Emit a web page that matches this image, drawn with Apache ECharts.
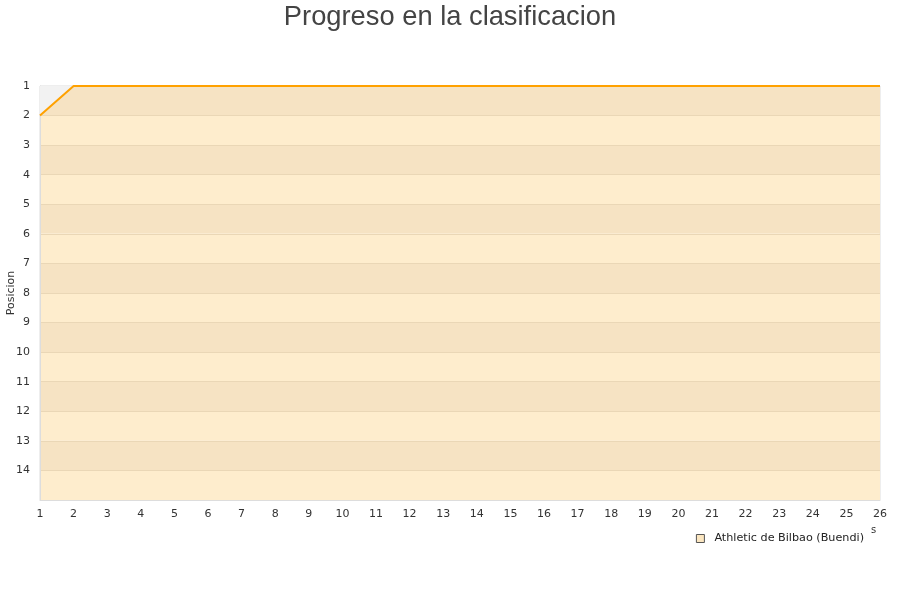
<!DOCTYPE html>
<html>
<head>
<meta charset="utf-8">
<script src="https://cdn.jsdelivr.net/npm/echarts@6/dist/echarts.min.js"></script>
<style>html,body{margin:0;padding:0;background:#fff;}#c{width:900px;height:600px;}</style>
</head>
<body>
<div id="c"></div>
<script>
var titleText = 'Progreso en la clasificacion';
var seriesName = 'Athletic de Bilbao (Buendi)';
var yAxisName = 'Posicion';
var jornadas = [1,2,3,4,5,6,7,8,9,10,11,12,13,14,15,16,17,18,19,20,21,22,23,24,25,26];
var posiciones = [2,1,1,1,1,1,1,1,1,1,1,1,1,1,1,1,1,1,1,1,1,1,1,1,1,1];
var yTickLabels = ['1','2','3','4','5','6','7','8','9','10','11','12','13','14'];

var pts = jornadas.map(function(j, i){ return [j, posiciones[i]]; });
var chart = echarts.init(document.getElementById('c'));
var font = 'DejaVu Sans';
chart.setOption({
  animation: false,
  title: {
    text: titleText, left: 'center', top: -1,
    textStyle: {fontFamily: 'Liberation Sans', fontSize: 27.3, fontWeight: 'normal', color: '#444'}
  },
  grid: {left: 40, right: 20, top: 86, bottom: 100, containLabel: false, outerBoundsMode: 'none',
    show: true, borderColor: '#ddd', borderWidth: 1, backgroundColor: 'transparent'},
  legend: {
    right: 31, top: 528, itemWidth: 8, itemHeight: 8, itemGap: 8,
    textStyle: {fontFamily: font, fontSize: 11.2, color: '#222', padding: [0, 0, 0, 5]},
    data: [{name: seriesName, icon: 'rect', itemStyle: {color: '#fbe6c0', borderColor: '#555', borderWidth: 1}}]
  },
  xAxis: {
    type: 'value', min: 1, max: 26, interval: 1,
    axisLine: {show: true, lineStyle: {color: '#ddd'}},
    axisTick: {show: false},
    splitLine: {show: false},
    axisLabel: {fontFamily: font, fontSize: 11, color: '#333', margin: 9}
  },
  yAxis: {
    type: 'value', inverse: true, min: 1, max: 15, interval: 1,
    axisLine: {show: true, lineStyle: {color: '#ddd'}},
    axisTick: {show: false},
    axisLabel: {fontFamily: font, fontSize: 11, color: '#333', margin: 10,
      formatter: function(v){ return yTickLabels.indexOf(String(v)) >= 0 ? String(v) : ''; }},
    splitLine: {show: true, lineStyle: {color: '#ead7b6'}},
    splitArea: {show: true, areaStyle: {color: ['#f6e3c3', '#feedcd']}}
  },
  graphic: [
    {type: 'text', left: 871, top: 525, style: {text: 's', fontFamily: font, fontSize: 10, fill: '#333'}},
    {type: 'text', x: 11, y: 293, rotation: Math.PI / 2,
      style: {text: yAxisName, fontFamily: font, fontSize: 11, fill: '#333', align: 'center', verticalAlign: 'middle'}}
  ],
  series: [
    {
      name: '_bg', type: 'line', data: pts, silent: true, showSymbol: false,
      lineStyle: {width: 0}, areaStyle: {color: '#f2f2f2', opacity: 1, origin: 'start'}, z: 1
    },
    {
      name: seriesName, type: 'line', data: pts, showSymbol: false,
      itemStyle: {color: '#fbe6c0'},
      lineStyle: {color: '#ffa100', width: 2}, z: 3
    }
  ]
});
</script>
</body>
</html>
